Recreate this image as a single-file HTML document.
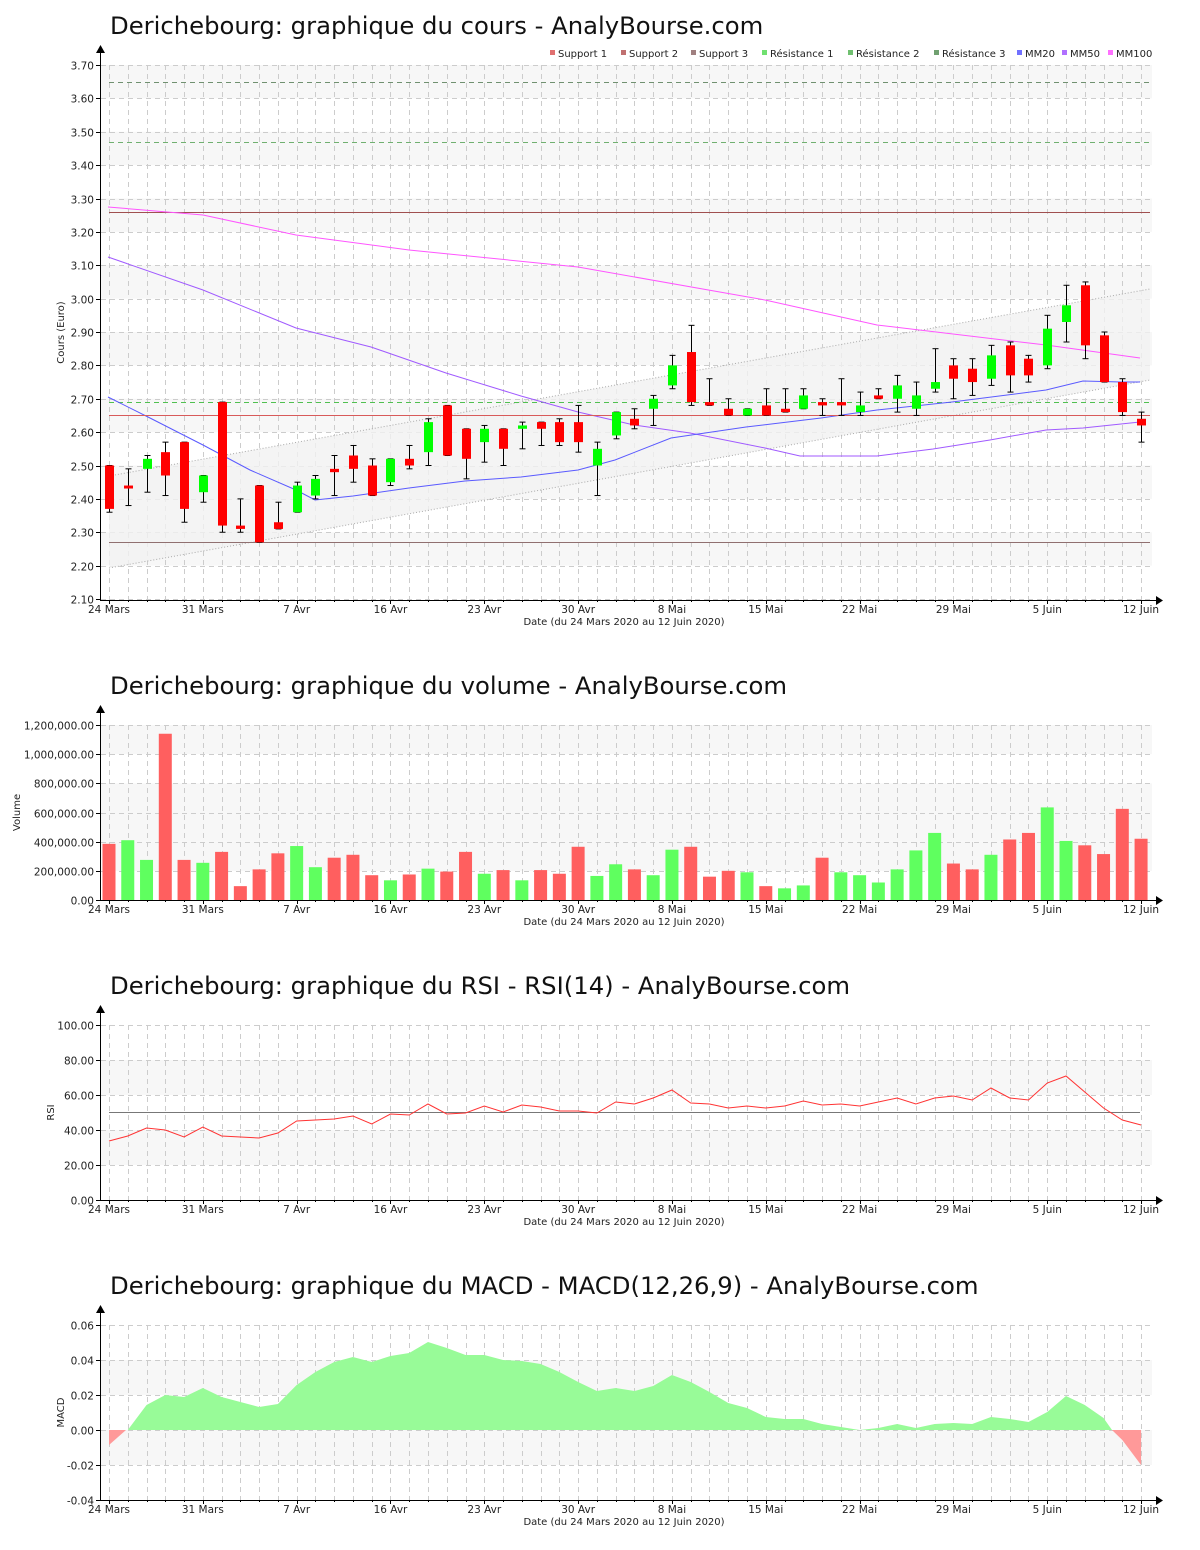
<!DOCTYPE html>
<html><head><meta charset="utf-8">
<style>
body{margin:0;background:#fff;width:1200px;height:1550px;overflow:hidden}
svg{display:block}
text{font-family:"DejaVu Sans","Liberation Sans",sans-serif;fill:#222}
.t{font-size:24.3px;fill:#111}
.ax{font-size:10.5px}
.sm{font-size:10px}
</style></head><body>
<svg id="s" width="1200" height="1550" xmlns="http://www.w3.org/2000/svg"></svg>
<script>
var S=document.getElementById('s'),h='';
var X0=109,DX=18.765,XR=1152;
function X(i){return X0+i*DX}
var labels=[[0,'24 Mars'],[5,'31 Mars'],[10,'7 Avr'],[15,'16 Avr'],[20,'23 Avr'],[25,'30 Avr'],[30,'8 Mai'],[35,'15 Mai'],[40,'22 Mai'],[45,'29 Mai'],[50,'5 Juin'],[55,'12 Juin']];
function frame(top,bot,ticks,yf,fmt,gray,ylabel,ylx){
  for(var k=0;k<ticks.length-1;k++){var a=yf(ticks[k]),b=yf(ticks[k+1]);
    if(gray(k))h+='<rect x="101" y="'+Math.min(a,b)+'" width="'+(XR-101)+'" height="'+Math.abs(a-b)+'" fill="#f7f7f7"/>';}
  for(var k=0;k<ticks.length;k++){var y=Math.round(yf(ticks[k]))+0.5;
    h+='<line x1="101" x2="'+XR+'" y1="'+y+'" y2="'+y+'" stroke="#ccc" stroke-dasharray="5,4"/>';
    h+='<line x1="96" x2="100" y1="'+y+'" y2="'+y+'" stroke="#000"/>';
    h+='<text class="ax" x="94" y="'+(y+4)+'" text-anchor="end">'+fmt(ticks[k])+'</text>';}
  for(var i=0;i<56;i++){var x=Math.round(X(i))+0.5;
    h+='<line x1="'+x+'" x2="'+x+'" y1="'+top+'" y2="'+bot+'" stroke="#ccc" stroke-dasharray="5,4"/>';
    h+='<line x1="'+x+'" x2="'+x+'" y1="'+bot+'" y2="'+(bot+(i%5==0?4:2))+'" stroke="#000"/>';}
  h+='<line x1="100.5" x2="100.5" y1="'+(top-14)+'" y2="'+bot+'" stroke="#000"/>';
  h+='<polygon points="96,'+(top-12)+' 105,'+(top-12)+' 100.5,'+(top-20)+'" fill="#000"/>';
  h+='<line x1="100" x2="1158" y1="'+(bot+0.5)+'" y2="'+(bot+0.5)+'" stroke="#000"/>';
  h+='<polygon points="1156,'+(bot-4)+' 1156,'+(bot+5)+' 1163,'+(bot+0.5)+'" fill="#000"/>';
  labels.forEach(function(l){h+='<text class="ax" x="'+X(l[0])+'" y="'+(bot+13)+'" text-anchor="middle">'+l[1]+'</text>'});
  h+='<text class="sm" x="624" y="'+(bot+25)+'" text-anchor="middle">Date (du 24 Mars 2020 au 12 Juin 2020)</text>';
  h+='<text class="sm" transform="translate('+ylx+','+((top+bot)/2)+') rotate(-90)" text-anchor="middle">'+ylabel+'</text>';
}
function poly(pts,st,w,extra){return '<polyline fill="none" stroke="'+st+'" stroke-width="'+(w||1)+'" '+(extra||'')+' points="'+pts.map(function(p){return p.join(',')}).join(' ')+'"/>'}

// ===== Chart 1 =====
h+='<text class="t" x="110" y="34">Derichebourg: graphique du cours - AnalyBourse.com</text>';
var py=function(p){return 65+(3.70-p)*333.75};
var t1=[];for(var v=2.10;v<3.705;v+=0.1)t1.push(+v.toFixed(2));
var lA=[X0,568],lB=[1150,380],uA=[X0,476],uB=[1150,289];
frame(65,600,t1,py,function(v){return v.toFixed(2)},function(k){return k%2==1},'Cours (Euro)',64);
h+='<polygon points="'+lA+' '+lB+' '+uB+' '+uA+'" fill="#f1f1f1" fill-opacity="0.8"/>';
h+='<line x1="'+lA[0]+'" y1="'+lA[1]+'" x2="'+lB[0]+'" y2="'+lB[1]+'" stroke="#aaa" stroke-dasharray="1,2"/>';
h+='<line x1="'+uA[0]+'" y1="'+uA[1]+'" x2="'+uB[0]+'" y2="'+uB[1]+'" stroke="#aaa" stroke-dasharray="1,2"/>';
function hl(p,c,d){var y=Math.round(py(p))+0.5;h+='<line x1="'+X0+'" x2="1150" y1="'+y+'" y2="'+y+'" stroke="'+c+'" '+(d?'stroke-dasharray="5,4"':'')+'/>'}
hl(2.27,'#907070');hl(3.26,'#a05050');hl(2.69,'#50c050',1);hl(3.47,'#70b070',1);hl(3.65,'#709070',1);
var C=[[2.50,2.37,2.36,2.50],[2.44,2.44,2.38,2.49],[2.49,2.52,2.42,2.53],[2.54,2.47,2.41,2.57],[2.57,2.37,2.33,2.57],[2.42,2.47,2.39,2.47],[2.69,2.32,2.30,2.69],[2.32,2.31,2.30,2.40],[2.44,2.27,2.27,2.44],[2.33,2.31,2.31,2.39],
[2.36,2.44,2.36,2.45],[2.41,2.46,2.40,2.47],[2.49,2.48,2.41,2.53],[2.53,2.49,2.45,2.56],[2.50,2.41,2.41,2.52],[2.45,2.52,2.44,2.52],[2.52,2.50,2.49,2.56],[2.54,2.63,2.50,2.64],[2.68,2.53,2.53,2.68],[2.61,2.52,2.46,2.61],
[2.57,2.61,2.51,2.62],[2.61,2.55,2.50,2.61],[2.61,2.62,2.55,2.63],[2.63,2.61,2.56,2.63],[2.63,2.57,2.56,2.64],[2.63,2.57,2.54,2.68],[2.50,2.55,2.41,2.57],[2.59,2.66,2.58,2.66],[2.64,2.62,2.61,2.67],[2.67,2.70,2.62,2.71],
[2.74,2.80,2.73,2.83],[2.84,2.69,2.68,2.92],[2.69,2.68,2.68,2.76],[2.67,2.65,2.65,2.70],[2.65,2.67,2.65,2.67],[2.68,2.65,2.65,2.73],[2.67,2.66,2.66,2.73],[2.67,2.71,2.67,2.73],[2.69,2.68,2.65,2.70],[2.69,2.68,2.65,2.76],
[2.66,2.68,2.65,2.72],[2.71,2.70,2.70,2.73],[2.70,2.74,2.66,2.77],[2.67,2.71,2.65,2.75],[2.73,2.75,2.72,2.85],[2.80,2.76,2.70,2.82],[2.79,2.75,2.71,2.82],[2.76,2.83,2.74,2.86],[2.86,2.77,2.72,2.87],[2.82,2.77,2.75,2.83],
[2.80,2.91,2.79,2.95],[2.93,2.98,2.87,3.04],[3.04,2.86,2.82,3.05],[2.89,2.75,2.75,2.90],[2.75,2.66,2.65,2.76],[2.64,2.62,2.57,2.66]];
var MM20=[[108,397],[150,418],[203,445],[250,470],[296,490],[315,500],[353,496],[409,488],[465,481],[521,477],[578,470],[615,460],[671,438],[746,427],[821,418],[877,410],[952,402],[1046,390],[1083,381],[1121,382],[1140,382]];
var MM50=[[108,257],[203,290],[296,328],[371,347],[446,373],[521,396],[578,412],[634,425],[690,433],[765,448],[800,456],[877,456],[933,449],[990,440],[1046,430],[1083,428],[1140,422]];
var MM100=[[108,207],[203,215],[296,235],[409,250],[578,267],[765,300],[877,325],[1046,345],[1140,358]];
h+=poly(MM100,'#ff55ff');h+=poly(MM50,'#a05aff');h+=poly(MM20,'#5a5aff');
hl(2.65,'#d85a5a');
C.forEach(function(c,i){var x=Math.round(X(i))+0.5,o=c[0],cl=c[1],up=cl>o;
  var yh=py(c[3]),yl=py(c[2]),yt=py(Math.max(o,cl)),yb=py(Math.min(o,cl));if(yb-yt<3){yb=yt+3}
  h+='<line x1="'+x+'" x2="'+x+'" y1="'+yh+'" y2="'+yl+'" stroke="#000"/>';
  h+='<line x1="'+(x-3)+'" x2="'+(x+3)+'" y1="'+yh+'" y2="'+yh+'" stroke="#000"/><line x1="'+(x-3)+'" x2="'+(x+3)+'" y1="'+yl+'" y2="'+yl+'" stroke="#000"/>';
  h+='<rect x="'+(x-4.5)+'" y="'+yt+'" width="9" height="'+(yb-yt)+'" fill="'+(up?'#00ff00':'#ff0000')+'"/>';});
var lg=[['Support 1','#e07070',550],['Support 2','#c07070',621],['Support 3','#a08080',691],['Résistance 1','#70e070',762],['Résistance 2','#70c070',848],['Résistance 3','#70a070',934],['MM20','#7070ff',1017],['MM50','#b070ff',1062],['MM100','#ff70ff',1108]];
lg.forEach(function(l){h+='<rect x="'+l[2]+'" y="50" width="5" height="5" fill="'+l[1]+'"/><text class="sm" x="'+(l[2]+8)+'" y="57">'+l[0]+'</text>'});

// ===== Volume =====
h+='<text class="t" x="110" y="694">Derichebourg: graphique du volume - AnalyBourse.com</text>';
var vy=function(v){return 900-v*175/1200000};
var tv=[0,200000,400000,600000,800000,1000000,1200000];
frame(725,900,tv,vy,function(v){return v.toLocaleString('en-US')+'.00'},function(k){return k==5||k==3||k==2||k==1},'Volume',20);
var V=[[385,0],[410,1],[275,1],[1140,0],[275,0],[255,1],[330,0],[95,0],[210,0],[320,0],[370,1],[225,1],[290,0],[310,0],[170,0],[135,1],[175,0],[215,1],[195,0],[330,0],[180,1],[205,0],[135,1],[205,0],[180,0],[365,0],[165,1],[245,1],[210,0],[170,1],[345,1],[365,0],[160,0],[200,0],[190,1],[95,0],[80,1],[100,1],[290,0],[190,1],[170,1],[120,1],[210,1],[340,1],[460,1],[250,0],[210,0],[310,1],[415,0],[460,0],[635,1],[405,1],[375,0],[315,0],[625,0],[420,0]];
V.forEach(function(v,i){var x=X(i),y=vy(v[0]*1000);h+='<rect x="'+(x-6.5)+'" y="'+y+'" width="13" height="'+(900-y)+'" fill="'+(v[1]?'#5fff5f':'#ff5f5f')+'"/>'});

// ===== RSI =====
h+='<text class="t" x="110" y="994">Derichebourg: graphique du RSI - RSI(14) - AnalyBourse.com</text>';
var ry=function(v){return 1200-v*1.75};
frame(1025,1200,[0,20,40,60,80,100],ry,function(v){return v.toFixed(2)},function(k){return k==1||k==3},'RSI',54);
h+='<line x1="'+X0+'" x2="1140" y1="1112.5" y2="1112.5" stroke="#777"/>';
var R=[1141,1136,1128,1130,1137,1127,1136,1137,1138,1133,1121,1120,1119,1116,1124,1114,1115,1104,1114,1113,1106,1112,1105,1107,1111,1111,1113,1102,1104,1098,1090,1103,1104,1108,1106,1108,1106,1101,1105,1104,1106,1102,1098,1104,1098,1096,1100,1088,1098,1100,1083,1076,1092,1108,1120,1125];
h+=poly(R.map(function(y,i){return [X(i),y]}),'#ff3333');

// ===== MACD =====
h+='<text class="t" x="110" y="1294">Derichebourg: graphique du MACD - MACD(12,26,9) - AnalyBourse.com</text>';
var my=function(v){return 1430-v*1750};
frame(1325,1500,[-0.04,-0.02,0,0.02,0.04,0.06],my,function(v){return v.toFixed(2)},function(k){return k==1||k==3},'MACD',64);
var M=[1445,1432,1405,1395,1397,1388,1397,1402,1407,1404,1385,1372,1362,1357,1362,1356,1353,1342,1348,1355,1355,1360,1361,1364,1372,1382,1391,1388,1391,1386,1375,1382,1392,1403,1408,1417,1419,1419,1424,1427,1430,1428,1424,1428,1424,1423,1424,1417,1419,1422,1412,1396,1405,1418,1440,1465];
var pos=[[126,1430]];for(var i=1;i<=53;i++)pos.push([X(i),Math.min(M[i],1430)]);pos.push([1112,1430]);
h+='<polygon fill="#98fb98" points="'+pos.map(function(p){return p.join(',')}).join(' ')+'"/>';
h+='<polygon fill="#ff9999" points="'+X0+',1430 '+X0+',1445 126,1430"/>';
h+='<polygon fill="#ff9999" points="1112,1430 '+X(54)+',1440 '+X(55)+',1465 '+X(55)+',1430"/>';
S.innerHTML=h;
</script>
</body></html>
